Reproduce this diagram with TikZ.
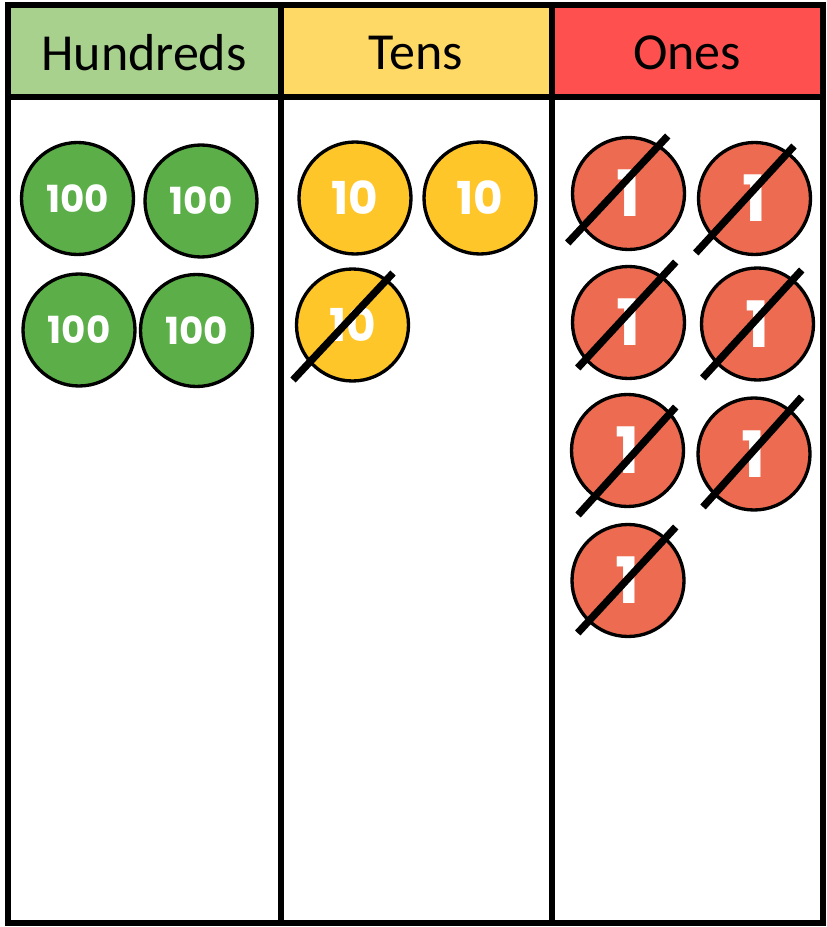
\documentclass[tikz,border=0pt]{standalone}
\usepackage{fontspec}
\setmainfont{Carlito}
\newfontfamily\popfont{Poppins}
\definecolor{hgreen}{HTML}{A9D18E}
\definecolor{hyellow}{HTML}{FFD966}
\definecolor{hred}{HTML}{FF5050}
\definecolor{cgreen}{HTML}{5BAE48}
\definecolor{cyellow}{HTML}{FFC629}
\definecolor{cred}{HTML}{ED6B50}
\tikzset{
  grid/.style={line width=4.5pt, draw=black},
  header/.style={font=\fontsize{39}{44}\selectfont, text=black, anchor=center},
  counter/.style={circle, draw=black, line width=2.5pt, minimum size=84pt, inner sep=0pt,
    text=white, font=\popfont\bfseries},
  hund/.style={counter, fill=cgreen, font=\popfont\bfseries\fontsize{28}{30}\selectfont},
  ten/.style={counter, fill=cyellow, font=\popfont\bfseries\fontsize{34}{36}\selectfont},
  one/.style={counter, fill=cred, font=\popfont\bfseries\fontsize{48}{50}\selectfont},
  strike/.style={line width=5.5pt, draw=black}
}
\begin{document}
\begin{tikzpicture}[x=0.75pt, y=-0.75pt]
\useasboundingbox (0,0) rectangle (827,927);
% header fills
\fill[hgreen] (8,5) rectangle (281,97);
\fill[hyellow] (281,5) rectangle (551.5,97);
\fill[hred] (551.5,5) rectangle (823,97);
% grid
\draw[grid] (8,5) rectangle (823,923);
\draw[grid] (8,97) -- (823,97);
\draw[grid] (281,5) -- (281,923);
\draw[grid] (551.5,5) -- (551.5,923);
% headers
\node[header] (hH) at (144,53) {Hundreds};
\node[header] (hT) at (416,53) {Tens};
\node[header] (hO) at (687,53) {Ones};
% hundreds
\node[hund] (h1) at (77.5,198.5) {100};
\node[hund] (h2) at (201,201) {100};
\node[hund] (h3) at (79,330) {100};
\node[hund] (h4) at (196.5,330.5) {100};
% tens
\node[ten] (t1) at (355,198) {10};
\node[ten] (t2) at (480,198) {10};
\node[ten] (t3) at (352.5,325) {10};
\draw[strike] (293,380) -- (393,273);
% ones
\node[one] (o1) at (628.5,193.5) {1};
\node[one] (o2) at (754.5,198.5) {1};
\node[one] (o3) at (628.5,322.5) {1};
\node[one] (o4) at (757.5,324) {1};
\node[one] (o5) at (627.5,450.5) {1};
\node[one] (o6) at (754,454) {1};
\node[one] (o7) at (628,580.5) {1};
\draw[strike] (567.7,243) -- (667.7,136);
\draw[strike] (695.7,253) -- (794,146);
\draw[strike] (577.7,368) -- (675.7,262);
\draw[strike] (702.7,378) -- (801.7,270);
\draw[strike] (578,515) -- (675.7,407);
\draw[strike] (703,507) -- (801.7,397);
\draw[strike] (577.7,633) -- (675.7,527);
\end{tikzpicture}
\end{document}
